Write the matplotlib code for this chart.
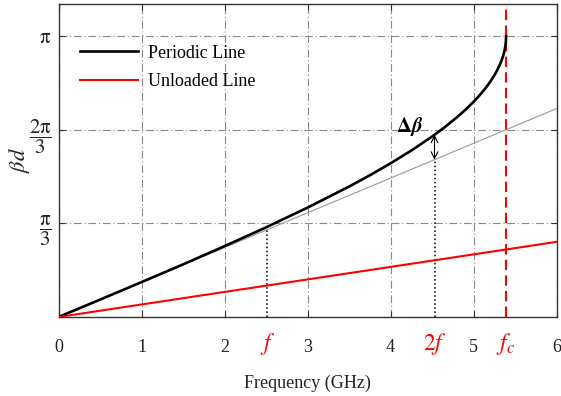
import matplotlib
matplotlib.use("Agg")
import matplotlib.pyplot as plt
import matplotlib.transforms as mtransforms
import numpy as np

plt.rcParams['font.family'] = ['Liberation Serif', 'DejaVu Serif']
plt.rcParams['mathtext.fontset'] = 'stix'

# data
freq_periodic = [0, 0.5, 1.0, 1.5, 2.0, 2.5, 3.0, 3.5, 3.75, 4.0, 4.25, 4.5, 4.65,
                 4.8, 4.9, 5.0, 5.05, 5.1, 5.15, 5.2, 5.25, 5.275, 5.3, 5.32,
                 5.335, 5.35, 5.36, 5.37, 5.38, 5.385, 5.39, 5.393]
beta_periodic = [0, 0.194, 0.390, 0.588, 0.792, 1.002, 1.223, 1.458, 1.584, 1.718,
                 1.861, 2.017, 2.120, 2.233, 2.315, 2.406, 2.455, 2.508, 2.565,
                 2.629, 2.701, 2.741, 2.787, 2.827, 2.861, 2.901, 2.930, 2.965,
                 3.009, 3.037, 3.077, np.pi]
freq_unloaded = [0, 6]
beta_unloaded = [0, 0.84]
freq_tangent = [0, 6]
beta_tangent = [0, 2.33]

f_mark = 2.515
f2_mark = 4.53
fc = 5.39

xticks = [0, 1, 2, 3, 4, 5, 6]
yticks = [np.pi / 3, 2 * np.pi / 3, np.pi]
ytick_labels = [r'$\dfrac{\mathrm{\pi}}{3}$', r'$\dfrac{2\mathrm{\pi}}{3}$', r'$\mathrm{\pi}$']

fig = plt.figure(figsize=(5.61, 3.96), dpi=100)
ax = fig.add_axes([0.1043, 0.1995, 0.8877, 0.7904])

ax.plot(freq_tangent, beta_tangent, color='#9a9a9a', lw=0.8, zorder=2)
ax.plot(freq_periodic, beta_periodic, color='black', lw=1.9, label='Periodic Line', zorder=4)
ax.plot(freq_unloaded, beta_unloaded, color='red', lw=1.5, label='Unloaded Line', zorder=4)
ax.plot([fc, fc], [0, 3.5], color='red', lw=1.5, ls=(0, (5, 2.5)), zorder=3)

# dotted markers at f and 2f
b_f = np.interp(f_mark, freq_periodic, beta_periodic)
ax.plot([f_mark, f_mark], [0, b_f], color='black', lw=1.1, ls=':', zorder=3)
b_tan = np.interp(f2_mark, freq_tangent, beta_tangent)
b_2f = np.interp(f2_mark, freq_periodic, beta_periodic)
ax.plot([f2_mark, f2_mark], [0, b_tan], color='black', lw=1.1, ls=':', zorder=3)
ax.annotate('', xy=(f2_mark, b_2f), xytext=(f2_mark, b_tan),
            arrowprops=dict(arrowstyle='<->', color='black', lw=0.8,
                            shrinkA=0, shrinkB=0, mutation_scale=12))
ax.text(4.39, 2.07, r'$\mathbf{\Delta}\boldsymbol{\beta}$', fontsize=15,
        ha='right', va='baseline', color='black')

ax.set_xlim(0, 6)
ax.set_ylim(0, 3.5)
ax.set_xticks(xticks)
ax.set_yticks(yticks)
ax.set_yticklabels(ytick_labels)
ax.tick_params(direction='in', length=4, top=True, right=True, colors='#333333',
               labelcolor='#222222', labelsize=13)
ax.tick_params(axis='x', pad=16)
ax.tick_params(axis='y', pad=5, labelsize=15)
ax.grid(True, color='#8a8a8a', lw=0.8, ls=(0, (7, 2.5, 1, 2.5)))
for s in ax.spines.values():
    s.set_color('#333333')
    s.set_linewidth(1.0)

trans = mtransforms.blended_transform_factory(ax.transData, ax.transAxes)
for xv, lab in [(f_mark, r'$f$'), (f2_mark, r'$2f$'), (fc, r'$f_c$')]:
    ax.text(xv, -0.085, lab, transform=trans, color='red', fontsize=17,
            ha='center', va='center')

ax.set_xlabel('Frequency (GHz)', fontsize=13, color='#222222')
ax.xaxis.set_label_coords(0.5, -0.185)
ax.set_ylabel(r'$\beta d$', fontsize=16, color='#222222')
ax.yaxis.set_label_coords(-0.054, 0.5)

ax.legend(loc='upper left', bbox_to_anchor=(0.043, 0.87), frameon=False,
          borderpad=0, borderaxespad=0, handlelength=3.2, handletextpad=0.55,
          labelspacing=0.62, fontsize=13)

fig.savefig('out.png', dpi=100)
